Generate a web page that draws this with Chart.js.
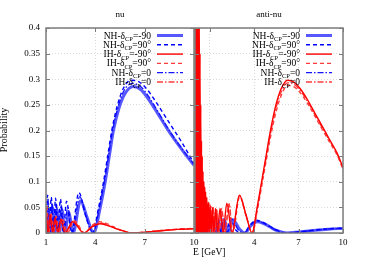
<!DOCTYPE html>
<html>
<head>
<meta charset="utf-8">
<script src="https://cdn.jsdelivr.net/npm/chart.js@4"></script>
<style>
  body { margin: 0; background: #fff; }
  #wrap { position: relative; width: 374px; height: 262px; }
  #wrap canvas { position: absolute; left: 0; top: 0; }
</style>
</head>
<body>
<div id="wrap">
  <canvas id="nuChart" width="374" height="262"></canvas>
  <canvas id="antiChart" width="374" height="262"></canvas>
</div>
<script>
// ---- data: E [GeV] and probability per curve ----

// nu panel
const nuNHm90E = [1.00, 1.06, 1.18, 1.30, 1.43, 1.55, 1.68, 1.82, 1.98, 2.15,
  2.38, 2.65, 3.10, 3.50, 3.90, 4.30, 4.60, 4.85, 5.10, 5.45,
  5.80, 6.30, 6.80, 7.30, 7.80, 8.30, 8.80, 9.40, 10.0];
const nuNHm90P = [0.030, 0, 0.045, 0, 0.048, 0, 0.045, 0, 0.045, 0,
  0.040, 0, 0.063, 0.030, 0, 0.050, 0.100, 0.150, 0.200, 0.245,
  0.272, 0.286, 0.279, 0.258, 0.233, 0.207, 0.183, 0.157, 0.132];

const nuNH90E = [1.00, 1.10, 1.20, 1.32, 1.45, 1.58, 1.72, 1.88, 2.05, 2.25,
  2.55, 3.00, 3.40, 3.82, 4.20, 4.50, 4.75, 5.00, 5.35, 5.70,
  6.15, 6.60, 7.10, 7.60, 8.10, 8.60, 9.20, 10.0];
const nuNH90P = [0, 0.074, 0, 0.070, 0, 0.068, 0, 0.066, 0, 0.062,
  0, 0.079, 0.035, 0, 0.050, 0.100, 0.150, 0.200, 0.250, 0.282,
  0.298, 0.296, 0.282, 0.260, 0.235, 0.210, 0.180, 0.136];

const nuNH0E = [1.00, 1.04, 1.15, 1.25, 1.38, 1.50, 1.63, 1.77, 1.93, 2.10,
  2.32, 2.60, 3.05, 3.45, 3.86, 4.25, 4.55, 4.80, 5.05, 5.40,
  5.75, 6.25, 6.75, 7.25, 7.75, 8.25, 8.75, 9.35, 10.0];
const nuNH0P = [0.020, 0, 0.060, 0, 0.058, 0, 0.057, 0, 0.055, 0,
  0.050, 0, 0.071, 0.032, 0, 0.050, 0.100, 0.150, 0.200, 0.248,
  0.278, 0.292, 0.286, 0.266, 0.240, 0.213, 0.188, 0.161, 0.134];

const nuIHm90E = [1.00, 1.12, 1.25, 1.40, 1.55, 1.72, 1.90, 2.15, 2.62, 3.30,
  3.80, 4.30, 4.90, 5.30, 5.70, 6.20, 7.00, 8.00, 9.00, 10.0];
const nuIHm90P = [0.050, 0, 0.035, 0, 0.030, 0, 0.027, 0, 0.022, 0,
  0.012, 0.018, 0.013, 0.008, 0.004, 0, 0.0015, 0.0045, 0.007, 0.008];

const nuIH90E = [1.00, 1.05, 1.18, 1.30, 1.46, 1.62, 1.80, 2.00, 2.30, 2.72,
  3.35, 3.80, 4.25, 4.85, 5.30, 5.70, 6.10, 7.00, 8.00, 9.00, 10.0];
const nuIH90P = [0.030, 0.055, 0, 0.040, 0, 0.033, 0, 0.028, 0, 0.024,
  0, 0.015, 0.022, 0.016, 0.009, 0.004, 0, 0.002, 0.005, 0.0075, 0.009];

const nuIH0E = [1.00, 1.15, 1.28, 1.43, 1.58, 1.76, 1.95, 2.22, 2.66, 3.32,
  3.80, 4.28, 4.88, 5.30, 5.70, 6.15, 7.00, 8.00, 9.00, 10.0];
const nuIH0P = [0.045, 0, 0.036, 0, 0.031, 0, 0.027, 0, 0.023, 0,
  0.013, 0.020, 0.014, 0.008, 0.004, 0, 0.0018, 0.0047, 0.0072, 0.0085];

// anti-nu panel
const antiNHm90E = [0.30, 0.34, 0.38, 0.43, 0.48, 0.54, 0.60, 0.67, 0.74, 0.82,
  0.90, 0.97, 1.05, 1.22, 1.40, 1.59, 1.78, 1.98, 2.26, 2.56,
  3.00, 3.35, 3.80, 4.20, 4.60, 5.00, 5.50, 6.20, 7.00, 8.00,
  9.00, 10.0];
const antiNHm90P = [0, 0.040, 0, 0.040, 0, 0.038, 0, 0.035, 0, 0.032,
  0, 0.030, 0, 0.026, 0, 0.025, 0, 0.026, 0, 0.026,
  0.008, 0, 0.015, 0.022, 0.019, 0.013, 0.005, 0, 0.002, 0.005,
  0.0075, 0.009];

const antiNH90E = [0.90, 0.96, 1.02, 1.12, 1.30, 1.48, 1.68, 1.88, 2.10, 2.40,
  2.75, 3.30, 3.75, 4.15, 4.55, 5.00, 5.50, 6.10, 7.00, 8.00,
  9.00, 10.0];
const antiNH90P = [0, 0.032, 0, 0.028, 0, 0.027, 0, 0.028, 0, 0.028,
  0.006, 0, 0.017, 0.025, 0.021, 0.014, 0.006, 0, 0.002, 0.0055,
  0.008, 0.0095];

const antiNH0E = [0.92, 1.00, 1.08, 1.20, 1.35, 1.53, 1.73, 1.93, 2.18, 2.48,
  2.90, 3.32, 3.78, 4.18, 4.58, 5.00, 5.50, 6.15, 7.00, 8.00,
  9.00, 10.0];
const antiNH0P = [0, 0.031, 0, 0.027, 0, 0.026, 0, 0.027, 0, 0.027,
  0.007, 0, 0.016, 0.023, 0.020, 0.013, 0.005, 0, 0.002, 0.005,
  0.0078, 0.0092];

const antiIHm90E = [0.02, 0.04, 0.06, 0.08, 0.10, 0.12, 0.14, 0.16, 0.18, 0.20,
  0.22, 0.24, 0.27, 0.29, 0.32, 0.34, 0.37, 0.39, 0.42, 0.44,
  0.47, 0.49, 0.52, 0.54, 0.57, 0.60, 0.63, 0.66, 0.69, 0.72,
  0.76, 0.80, 0.85, 0.90, 0.96, 1.02, 1.09, 1.18, 1.27, 1.39,
  1.52, 1.69, 1.90, 2.15, 2.50, 3.00, 3.45, 3.85, 4.20, 4.50,
  4.80, 5.10, 5.45, 5.80, 6.25, 6.70, 7.10, 7.60, 8.10, 8.60,
  9.10, 9.60, 10.0];
const antiIHm90P = [0, 0.5, 0, 0.5, 0, 0.5, 0, 0.5, 0, 0.5,
  0, 0.5, 0, 0.45, 0, 0.35, 0, 0.25, 0, 0.18,
  0, 0.15, 0, 0.12, 0, 0.10, 0, 0.09, 0, 0.08,
  0, 0.07, 0, 0.06, 0, 0.055, 0, 0.05, 0, 0.048,
  0, 0.048, 0, 0.058, 0, 0.074, 0.035, 0, 0.05, 0.10,
  0.15, 0.20, 0.248, 0.28, 0.298, 0.294, 0.282, 0.26, 0.234, 0.208,
  0.182, 0.156, 0.128];

const antiIH90E = [0.86, 0.92, 0.98, 1.05, 1.13, 1.22, 1.33, 1.45, 1.60, 1.79,
  2.00, 2.30, 2.55, 3.02, 3.45, 3.88, 4.22, 4.52, 4.82, 5.12,
  5.47, 5.82, 6.25, 6.70, 7.10, 7.60, 8.10, 8.60, 9.10, 9.60,
  10.0];
const antiIH90P = [0, 0.058, 0, 0.052, 0, 0.049, 0, 0.046, 0, 0.047,
  0, 0.056, 0, 0.071, 0.033, 0, 0.046, 0.094, 0.143, 0.190,
  0.236, 0.268, 0.288, 0.285, 0.274, 0.253, 0.228, 0.202, 0.177, 0.152,
  0.125];

const antiIH0E = [0.88, 0.94, 1.00, 1.07, 1.15, 1.24, 1.35, 1.47, 1.62, 1.80,
  2.02, 2.32, 2.52, 3.01, 3.45, 3.86, 4.21, 4.51, 4.81, 5.11,
  5.46, 5.81, 6.25, 6.70, 7.10, 7.60, 8.10, 8.60, 9.10, 9.60,
  10.0];
const antiIH0P = [0, 0.059, 0, 0.053, 0, 0.050, 0, 0.047, 0, 0.047,
  0, 0.057, 0, 0.073, 0.034, 0, 0.048, 0.097, 0.147, 0.195,
  0.242, 0.274, 0.293, 0.290, 0.278, 0.257, 0.231, 0.205, 0.180, 0.154,
  0.126];

// ticks and labels
const yTicks = [0, 0.05, 0.1, 0.15, 0.2, 0.25, 0.3, 0.35, 0.4];
const xTicks = [1, 4, 7, 10];
const nuXLabels = ['1', '4', '7', '10'];
const antiXLabels = ['', '4', '7', '10'];
const legendPre = ['NH-δ', 'NH-δ', 'IH-δ', 'IH-δ', 'NH-δ', 'IH-δ'];
const legendPost = ['=-90', '=90°', '=-90°', '=90°', '=0', '=0'];

// line styles, same order as the legend
const lineColors = ['#5858ff', '#0000ff', '#ff0000', '#ff3c3c', '#1414ff', '#ff3c3c'];
const lineWidths = [3, 1.4, 1.4, 1.4, 1.3, 1.3];
const lineDashes = [[], [4, 3], [], [4, 3], [6, 2, 1.5, 2], [6, 2, 1.5, 2]];
const drawOrder = [2, 1, 0, 0, 1, 0]; // thick line at the back, red on top

const FONT = '"Liberation Serif", "Times New Roman", serif';

function makeSet(E, P, k) {
  return {
    data: E.map((e, i) => ({ x: e, y: P[i] })),
    borderColor: lineColors[k],
    borderWidth: lineWidths[k],
    borderDash: lineDashes[k],
    pointRadius: 0,
    fill: false,
    cubicInterpolationMode: 'monotone',
    order: drawOrder[k]
  };
}

function decor(title, extra) {
  return {
    id: 'decor',
    afterDatasetsDraw(chart) {
      const ctx = chart.ctx, a = chart.chartArea;
      const xs = chart.scales.x, ys = chart.scales.y;
      ctx.save();
      // frame + inward tics
      ctx.strokeStyle = '#7c7c7c';
      ctx.lineWidth = 1.5;
      ctx.strokeRect(a.left, a.top, a.right - a.left, a.bottom - a.top);
      ctx.lineWidth = 1;
      ctx.beginPath();
      yTicks.forEach(v => {
        const y = Math.round(ys.getPixelForValue(v)) + 0.5;
        ctx.moveTo(a.left, y); ctx.lineTo(a.left + 4, y);
        ctx.moveTo(a.right - 4, y); ctx.lineTo(a.right, y);
      });
      xTicks.forEach(v => {
        const x = Math.round(xs.getPixelForValue(v)) + 0.5;
        ctx.moveTo(x, a.bottom); ctx.lineTo(x, a.bottom - 4);
        ctx.moveTo(x, a.top); ctx.lineTo(x, a.top + 4);
      });
      ctx.stroke();

      // panel title
      ctx.fillStyle = '#000';
      ctx.font = '9px ' + FONT;
      ctx.textAlign = 'center';
      ctx.textBaseline = 'alphabetic';
      ctx.fillText(title, (a.left + a.right) / 2, 17);

      // key with CP subscript
      const mainFont = '9.5px ' + FONT, subFont = '6.5px ' + FONT;
      ctx.textAlign = 'left';
      legendPre.forEach((pre, i) => {
        const y = a.top + 7.5 + i * 9.3;
        ctx.font = mainFont;
        const w1 = ctx.measureText(pre).width;
        const w3 = ctx.measureText(legendPost[i]).width;
        ctx.font = subFont;
        const w2 = ctx.measureText('CP').width;
        let x = a.right - 43 - (w1 + w2 + w3);
        ctx.font = mainFont;
        ctx.fillText(pre, x, y + 3);
        x += w1;
        ctx.font = subFont;
        ctx.fillText('CP', x, y + 5.5);
        x += w2;
        ctx.font = mainFont;
        ctx.fillText(legendPost[i], x, y + 3);

        ctx.strokeStyle = lineColors[i];
        ctx.lineWidth = lineWidths[i];
        ctx.setLineDash(lineDashes[i]);
        ctx.beginPath();
        ctx.moveTo(a.right - 37, y);
        ctx.lineTo(a.right - 11, y);
        ctx.stroke();
        ctx.setLineDash([]);
      });
      if (extra) extra(ctx, a);
      ctx.restore();
    }
  };
}

function makeOptions(xMin, xLabels, pad, yWidth, showY) {
  return {
    responsive: false,
    animation: false,
    events: [],
    layout: { padding: pad },
    plugins: { legend: { display: false }, tooltip: { enabled: false } },
    scales: {
      x: {
        type: 'linear', min: xMin, max: 10,
        afterBuildTicks: s => { s.ticks = xTicks.map(v => ({ value: v })); },
        afterFit: s => { s.height = 29; },
        ticks: { font: { family: FONT, size: 9 }, color: '#000', padding: 4, maxRotation: 0,
          callback: (v, i) => xLabels[i] },
        grid: { color: '#cfcfcf', drawTicks: false, lineWidth: 0.8 },
        border: { display: false, dash: [1, 2] }
      },
      y: {
        min: 0, max: 0.4,
        afterBuildTicks: s => { s.ticks = yTicks.map(v => ({ value: v })); },
        afterFit: s => { s.width = yWidth; },
        ticks: { display: showY, font: { family: FONT, size: 9 }, color: '#000', padding: 6,
          callback: v => String(Math.round(v * 100) / 100) },
        grid: { color: '#cfcfcf', drawTicks: false, lineWidth: 0.8 },
        border: { display: false, dash: [1, 2] }
      }
    }
  };
}

new Chart(document.getElementById('nuChart'), {
  type: 'line',
  data: {
    datasets: [
      makeSet(nuNHm90E, nuNHm90P, 0),
      makeSet(nuNH90E, nuNH90P, 1),
      makeSet(nuIHm90E, nuIHm90P, 2),
      makeSet(nuIH90E, nuIH90P, 3),
      makeSet(nuNH0E, nuNH0P, 4),
      makeSet(nuIH0E, nuIH0P, 5)
    ]
  },
  options: makeOptions(1, nuXLabels, { left: 0, right: 180, top: 28, bottom: 0 }, 46, true),
  plugins: [decor('nu', (ctx, a) => {
    ctx.save();
    ctx.fillStyle = '#000';
    ctx.font = '10px ' + FONT;
    ctx.textAlign = 'center';
    ctx.translate(7, 130);
    ctx.rotate(-Math.PI / 2);
    ctx.fillText('Probability', 0, 0);
    ctx.restore();
  })]
});

new Chart(document.getElementById('antiChart'), {
  type: 'line',
  data: {
    datasets: [
      makeSet(antiNHm90E, antiNHm90P, 0),
      makeSet(antiNH90E, antiNH90P, 1),
      makeSet(antiIHm90E, antiIHm90P, 2),
      makeSet(antiIH90E, antiIH90P, 3),
      makeSet(antiNH0E, antiNH0P, 4),
      makeSet(antiIH0E, antiIH0P, 5)
    ]
  },
  options: makeOptions(0, antiXLabels, { left: 195, right: 31, top: 28, bottom: 0 }, 0, false),
  plugins: [decor('anti-nu', (ctx, a) => {
    ctx.fillStyle = '#000';
    ctx.font = '9.5px ' + FONT;
    ctx.textAlign = 'left';
    ctx.fillText('E [GeV]', 193, 255);
  })]
});
</script>
</body>
</html>
